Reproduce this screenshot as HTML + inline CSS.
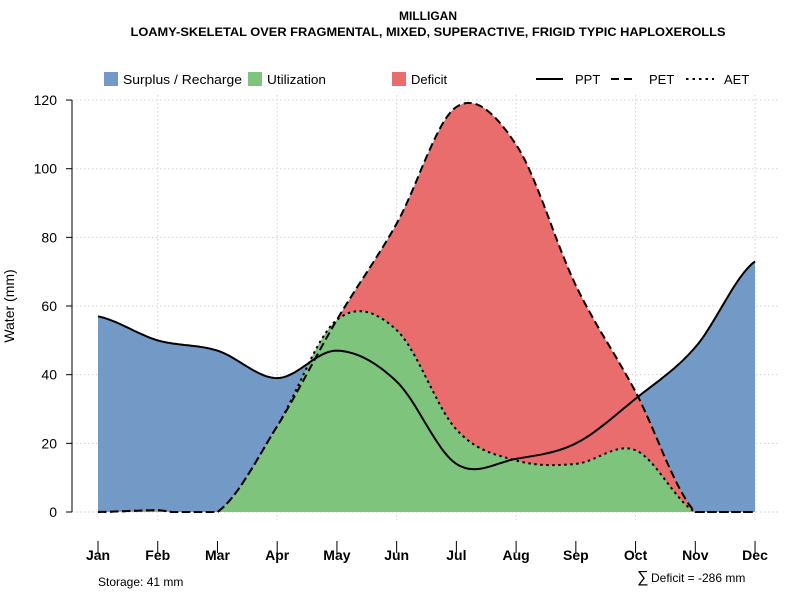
<!DOCTYPE html>
<html><head><meta charset="utf-8"><style>
body{margin:0;background:#fff;font-family:"Liberation Sans",sans-serif}
svg text{font-family:"Liberation Sans",sans-serif}
</style></head><body>
<svg id="chart" width="800" height="600" viewBox="0 0 800 600">
<text x="428" y="20" text-anchor="middle" font-size="12" font-weight="bold">MILLIGAN</text>
<text x="428" y="36" text-anchor="middle" font-size="12" font-weight="bold" textLength="595" lengthAdjust="spacingAndGlyphs">LOAMY-SKELETAL OVER FRAGMENTAL, MIXED, SUPERACTIVE, FRIGID TYPIC HAPLOXEROLLS</text>
<g id="grid"></g>
<g id="areas"></g>
<g id="lines"></g>
<g id="axes"></g>
<text transform="translate(14,306) rotate(-90)" text-anchor="middle" font-size="14">Water (mm)</text>
<g font-size="13">
<rect x="104" y="72" width="14" height="14" fill="#7399c6"/>
<text x="123" y="84" textLength="119" lengthAdjust="spacingAndGlyphs">Surplus / Recharge</text>
<rect x="248" y="72" width="14" height="14" fill="#7fc47c"/>
<text x="267" y="84" textLength="59" lengthAdjust="spacingAndGlyphs">Utilization</text>
<rect x="392" y="72" width="14" height="14" fill="#e96d6d"/>
<text x="411" y="84">Deficit</text>
<line x1="536" y1="79" x2="563" y2="79" stroke="#000" stroke-width="2"/>
<text x="575" y="84">PPT</text>
<line x1="611" y1="79" x2="637" y2="79" stroke="#000" stroke-width="2" stroke-dasharray="8,5"/>
<text x="649" y="84">PET</text>
<line x1="686" y1="79" x2="714" y2="79" stroke="#000" stroke-width="2" stroke-dasharray="2.5,4"/>
<text x="724" y="84">AET</text>
</g>
<text x="98" y="586" font-size="12">Storage: 41 mm</text>
<text x="637" y="582" font-size="16">∑</text>
<text x="651" y="582" font-size="12">Deficit = -286 mm</text>
</svg>
<script>
const months=["Jan","Feb","Mar","Apr","May","Jun","Jul","Aug","Sep","Oct","Nov","Dec"];
const ppt=[57,50,47,39,47,38,14,15.5,20,33,48,73];
const pet=[0,0.5,0,25,56,84,118,107,66,35,0,0];
const aet=[0,0.5,0,25,56,53,24,15,14,18,0,0];
const yTicks=[0,20,40,60,80,100,120];
const NS="http://www.w3.org/2000/svg";
const x0=98,dx=59.73;
function xs(i){return x0+i*dx;}
function ys(v){return 512-v*3.433;}
function mk(tag,attrs,parent){const e=document.createElementNS(NS,tag);for(const k in attrs)e.setAttribute(k,attrs[k]);parent.appendChild(e);return e;}
function curve(arr){const pts=[];const n=arr.length;
 for(let i=0;i<n-1;i++){const p0=arr[Math.max(0,i-1)],p1=arr[i],p2=arr[i+1],p3=arr[Math.min(n-1,i+2)];
  for(let s=0;s<20;s++){const t=s/20,t2=t*t,t3=t2*t;
   let v=0.5*((2*p1)+(-p0+p2)*t+(2*p0-5*p1+4*p2-p3)*t2+(-p0+3*p1-3*p2+p3)*t3);
   if(v<0)v=0;
   pts.push([xs(i+t),ys(v)]);}}
 pts.push([xs(n-1),ys(arr[n-1])]);return pts;}
function lineD(p){return "M"+p.map(q=>q[0].toFixed(1)+","+q[1].toFixed(1)).join("L");}
function areaD(p){return lineD(p)+"L"+xs(months.length-1)+","+ys(0)+"L"+xs(0)+","+ys(0)+"Z";}
const grid=document.getElementById("grid"),areas=document.getElementById("areas"),lines=document.getElementById("lines"),axes=document.getElementById("axes");
yTicks.forEach(v=>{const g=mk("line",{x1:72,x2:780,y1:ys(v),y2:ys(v),stroke:"#d3d3d3","stroke-dasharray":"1.5,2.5"},grid);
 
 
 const t=mk("line",{x1:66,x2:72,y1:ys(v),y2:ys(v),stroke:"#000"},axes);
 
 
 const l=mk("text",{x:57,y:ys(v)+5,"text-anchor":"end","font-size":"14"},axes);l.textContent=v;
 
 });
mk("line",{x1:72,x2:72,y1:ys(0),y2:ys(120),stroke:"#000"},axes);
months.forEach((m,i)=>{if(i%2==1){const g=mk("line",{x1:xs(i),x2:xs(i),y1:95,y2:520,stroke:"#d3d3d3","stroke-dasharray":"1.5,2.5"},grid);
  
  }
 const t=mk("line",{x1:xs(i),x2:xs(i),y1:541,y2:553,stroke:"#000"},axes);
 
 
 const l=mk("text",{x:xs(i),y:560,"text-anchor":"middle","font-size":"14","font-weight":"bold"},axes);l.textContent=m;
 
 });
const cp=curve(ppt),ce=curve(pet),ca=curve(aet);
const a1=mk("path",{d:areaD(cp),fill:"#7399c6"},areas);


const a2=mk("path",{d:areaD(ce),fill:"#e96d6d"},areas);


const a3=mk("path",{d:areaD(ca),fill:"#7fc47c"},areas);


const l1=mk("path",{d:lineD(ca),fill:"none",stroke:"#000","stroke-width":2,"stroke-dasharray":"2.5,3.5"},lines);


const l2=mk("path",{d:lineD(ce),fill:"none",stroke:"#000","stroke-width":2,"stroke-dasharray":"8,4"},lines);


const l3=mk("path",{d:lineD(cp),fill:"none",stroke:"#000","stroke-width":2},lines);


</script>
</body></html>
